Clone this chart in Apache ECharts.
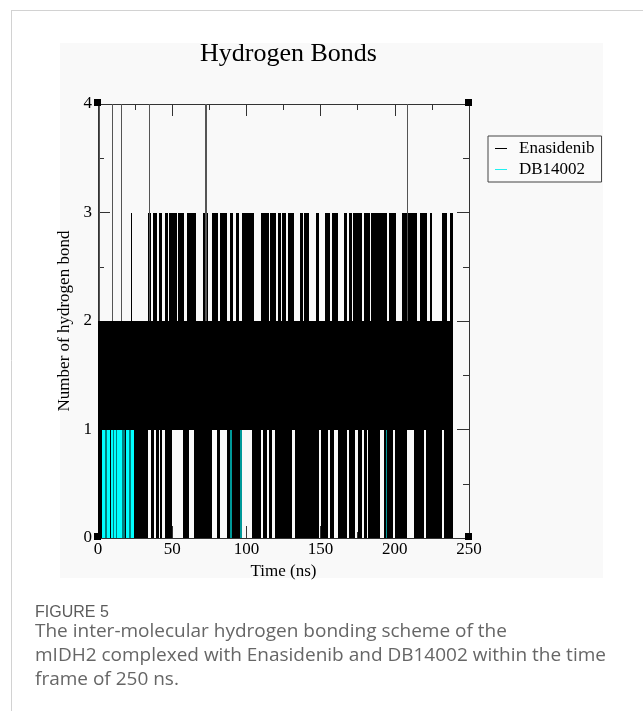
<!DOCTYPE html>
<html><head><meta charset="utf-8">
<script src="https://cdn.jsdelivr.net/npm/echarts@6/dist/echarts.min.js"></script>
<style>html,body{margin:0;padding:0;background:#fff;}#c{width:643px;height:711px;}</style>
</head><body><div id="c"></div>
<script>
// ---------------- data ----------------
const chartTitle = 'Hydrogen Bonds';
const xName = 'Time (ns)';
const yName = 'Number of hydrogen bond';
const seriesNames = ['Enasidenib', 'DB14002'];
// Enasidenib: minimum / maximum number of H-bonds in each 1-ns window (t = 0 .. 238 ns)
const enaMin = [
0,0,0,0,0,0,0,0,0,0, 0,0,0,0,0,0,0,0,0,0, 0,0,0,0,0,0,0,0,0,0, 0,0,0,0,1,1,0,0,1,0,
0,1,0,1,1,0,0,0,0,0, 1,1,1,1,1,1,1,0,0,0, 0,1,1,1,1,0,0,0,0,0, 0,0,0,0,0,0,0,1,1,1,
0,0,1,1,1,1,1,0,0,0, 0,0,0,0,0,0,0,1,1,1, 1,1,1,1,0,0,0,0,0,0, 1,0,0,0,1,0,0,1,1,0,
0,0,0,0,0,0,0,0,0,0, 0,1,1,0,0,0,0,0,0,0, 0,0,0,0,0,0,0,0,0,1, 0,0,0,0,0,1,0,0,0,1,
1,1,0,0,0,0,0,0,1,0, 0,0,0,1,1,0,0,0,1,0, 0,1,0,0,0,0,0,0,0,0, 1,1,1,0,0,0,0,0,0,1,
0,0,0,0,0,0,0,0,1,1, 1,1,1,0,0,0,0,0,0,0, 1,0,0,0,0,0,0,0,0,0, 0,0,1,0,0,0,0,0,0
];
const enaMax = [
2,2,2,2,2,2,2,2,2,2, 2,2,2,2,2,2,2,2,2,2, 2,2,3,2,2,2,2,2,2,2, 2,2,2,2,3,3,2,3,3,3,
2,3,3,2,2,3,3,2,3,3, 3,3,3,2,3,3,3,3,2,2, 3,3,3,3,3,3,2,2,2,2, 2,3,3,3,2,2,2,3,3,3,
3,2,3,3,3,3,3,2,2,3, 3,2,2,3,3,2,2,3,3,3, 3,3,3,3,3,2,2,2,2,2, 3,3,3,3,3,2,3,3,3,3,
2,3,3,2,3,3,3,2,3,3, 3,3,2,2,2,2,3,3,2,3, 3,3,2,2,2,2,2,3,3,2, 2,2,2,3,3,3,2,2,3,3,
3,3,2,2,2,2,3,3,2,3, 3,2,3,3,3,3,3,3,2,3, 3,3,3,2,3,3,3,3,3,3, 3,3,3,3,3,2,3,3,3,3,
3,2,2,2,2,3,3,3,3,3, 3,3,3,3,3,2,2,3,3,3, 3,3,2,2,3,2,2,2,2,2, 2,2,3,3,3,2,2,3,3
];
// brief excursions of Enasidenib to 4 H-bonds (time in ns)
const enaSpikeTimes = [0.7, 10.1, 15.5, 34.7, 72.4, 73.4, 208.7];
const enaSpikeValue = [4, 4, 4, 4, 4, 4, 4];
// DB14002: fraction of frames with 1 H-bond in 1-ns windows starting at these times
const dbBins = [3,4,5,6,7,9,10,11,12,13,14,15,16,17,19,20,21,22,23,89,96,194];
const dbOcc  = [1,1,0.5,1,1,1,0.5,1,0.5,1,1,1,0.5,0.5,1,1,0.5,1,1,0.6,0.6,0.6];
const xTickLabels = [0, 50, 100, 150, 200, 250];
const yTickLabels = [0, 1, 2, 3, 4];
const captionHead = 'FIGURE 5';
const captionLines = [
  'The inter-molecular hydrogen bonding scheme of the',
  'mIDH2 complexed with Enasidenib and DB14002 within the time',
  'frame of 250 ns.'
];

// ---------------- build ----------------
function runs(minArr, maxArr) {
  const out = [];
  let s = 0;
  for (let i = 1; i <= minArr.length; i++) {
    if (i === minArr.length || minArr[i] !== minArr[s] || maxArr[i] !== maxArr[s]) {
      out.push([s, i, minArr[s], maxArr[s]]);
      s = i;
    }
  }
  return out;
}
const enaRuns = runs(enaMin, enaMax);
const dbData = dbBins.map((t, i) => [t, t + 1, 0, 1, dbOcc[i]]);
const spikeData = enaSpikeTimes.map((t, i) => [t, 2, enaSpikeValue[i]]);

function rectItem(params, api) {
  const a = api.coord([api.value(0), api.value(3)]);
  const b = api.coord([api.value(1), api.value(2)]);
  const x0 = Math.round(a[0]), x1 = Math.round(b[0]);
  const y0 = Math.round(a[1]), y1 = Math.round(b[1]);
  return { type: 'rect', shape: { x: x0, y: y0, width: Math.max(1, x1 - x0), height: y1 - y0 },
    style: { fill: api.visual('color') } };
}
function dbItem(params, api) {
  const a = api.coord([api.value(0), api.value(3)]);
  const b = api.coord([api.value(1), api.value(2)]);
  const x0 = Math.round(a[0]), x1 = Math.round(b[0]);
  const y0 = Math.round(a[1]), y1 = Math.round(b[1]);
  return { type: 'rect', shape: { x: x0, y: y0, width: Math.max(1, x1 - x0), height: y1 - y0 },
    style: { fill: '#00ffff', opacity: api.value(4) } };
}
function spikeItem(params, api) {
  const a = api.coord([api.value(0), api.value(1)]);
  const b = api.coord([api.value(0), api.value(2)]);
  const x = Math.floor(a[0]) + 0.5;
  return { type: 'line', shape: { x1: x, y1: a[1], x2: x, y2: b[1] },
    style: { stroke: '#555', lineWidth: 1 } };
}

const serif = 'Liberation Serif, Times New Roman, serif';
const axisCommon = {
  type: 'value', min: 0, splitLine: { show: false },
  axisLine: { show: true, onZero: false, lineStyle: { color: '#333', width: 1 } },
  axisTick: { show: true, inside: true, length: 12, lineStyle: { color: '#333', width: 1 } },
  minorTick: { show: true, splitNumber: 2, length: 6, lineStyle: { color: '#333', width: 1 } },
  axisLabel: { fontFamily: serif, fontSize: 17, color: '#000' }
};

const chart = echarts.init(document.getElementById('c'), null, { renderer: 'canvas' });
const gl = 98, gt = 104, gr = 643 - 469, gb = 711 - 538;

const graphics = [
  { type: 'rect', z: -100, shape: { x: 60, y: 43, width: 543, height: 535 }, style: { fill: '#f9f9f9' }, silent: true },
  { type: 'line', z: -100, shape: { x1: 11, y1: 10.5, x2: 643, y2: 10.5 }, style: { stroke: '#d2d2d2', lineWidth: 1 } },
  { type: 'line', z: -100, shape: { x1: 11.5, y1: 10, x2: 11.5, y2: 711 }, style: { stroke: '#d2d2d2', lineWidth: 1 } },
  { type: 'text', left: 35, top: 605, style: { text: captionHead, font: '16px "Liberation Sans Narrow", "Arial Narrow", sans-serif', fill: '#5c5c5c' } }
];
captionLines.forEach((s, i) => {
  graphics.push({ type: 'text', left: 35, top: 622 + i * 24,
    style: { text: s, font: '19px "Open Sans", sans-serif', fill: '#666' } });
});

chart.setOption({
  animation: false,
  title: { text: chartTitle, left: 283.5, top: 36, textAlign: 'center',
    textStyle: { fontFamily: serif, fontSize: 26, fontWeight: 'normal', color: '#000' } },
  legend: {
    orient: 'vertical', left: 488, top: 136,
    data: [{ name: seriesNames[0], icon: 'rect', itemStyle: { color: '#000' } },
           { name: seriesNames[1], icon: 'rect', itemStyle: { color: '#20f0f0' } }],
    itemWidth: 12, itemHeight: 1, itemGap: 4,
    padding: [4, 7, 4, 7],
    borderColor: '#444', borderWidth: 1, backgroundColor: '#fafafa',
    textStyle: { fontFamily: serif, fontSize: 17, color: '#000', lineHeight: 16, padding: [0, 0, 0, 7] }
  },
  grid: { left: gl, top: gt, right: gr, bottom: gb, containLabel: false },
  xAxis: [
    Object.assign({}, axisCommon, { max: 250, interval: 50, position: 'bottom',
      name: xName, nameLocation: 'middle', nameGap: 16,
      nameTextStyle: { fontFamily: serif, fontSize: 17, color: '#000' },
      axisLabel: Object.assign({}, axisCommon.axisLabel, { margin: 3 }) }),
    Object.assign({}, axisCommon, { max: 250, interval: 50, position: 'top', axisLabel: { show: false } })
  ],
  yAxis: [
    Object.assign({}, axisCommon, { max: 4, interval: 1, position: 'left',
      name: yName, nameLocation: 'middle', nameGap: 14, nameRotate: 90,
      nameTextStyle: { fontFamily: serif, fontSize: 17, color: '#000' },
      axisLabel: Object.assign({}, axisCommon.axisLabel, { margin: 6 }) }),
    Object.assign({}, axisCommon, { max: 4, interval: 1, position: 'right', axisLabel: { show: false } })
  ],
  series: [
    { name: seriesNames[0], type: 'custom', renderItem: rectItem, data: enaRuns,
      itemStyle: { color: '#000' }, encode: { x: [0, 1], y: [2, 3] }, clip: true, silent: true },
    { name: seriesNames[0] + ' spikes', type: 'custom', renderItem: spikeItem, data: spikeData,
      encode: { x: 0, y: [1, 2] }, clip: true, silent: true },
    { name: seriesNames[1], type: 'custom', renderItem: dbItem, data: dbData,
      itemStyle: { color: '#00ffff' }, encode: { x: [0, 1], y: [2, 3] }, clip: true, silent: true }
  ],
  graphic: graphics
});

// small corner markers of the plot frame (as in the Grace output)
const corners = [[0, 0], [250, 0], [0, 4], [250, 4]].map(p => chart.convertToPixel({ xAxisIndex: 0, yAxisIndex: 0 }, p));
const cornerG = corners.map(c => ({ type: 'rect', z: 50,
  shape: { x: Math.round(c[0]) - 4, y: Math.round(c[1]) - 5, width: 7, height: 7 }, style: { fill: '#000' } }));
chart.setOption({ graphic: graphics.concat(cornerG) });
</script></body></html>
